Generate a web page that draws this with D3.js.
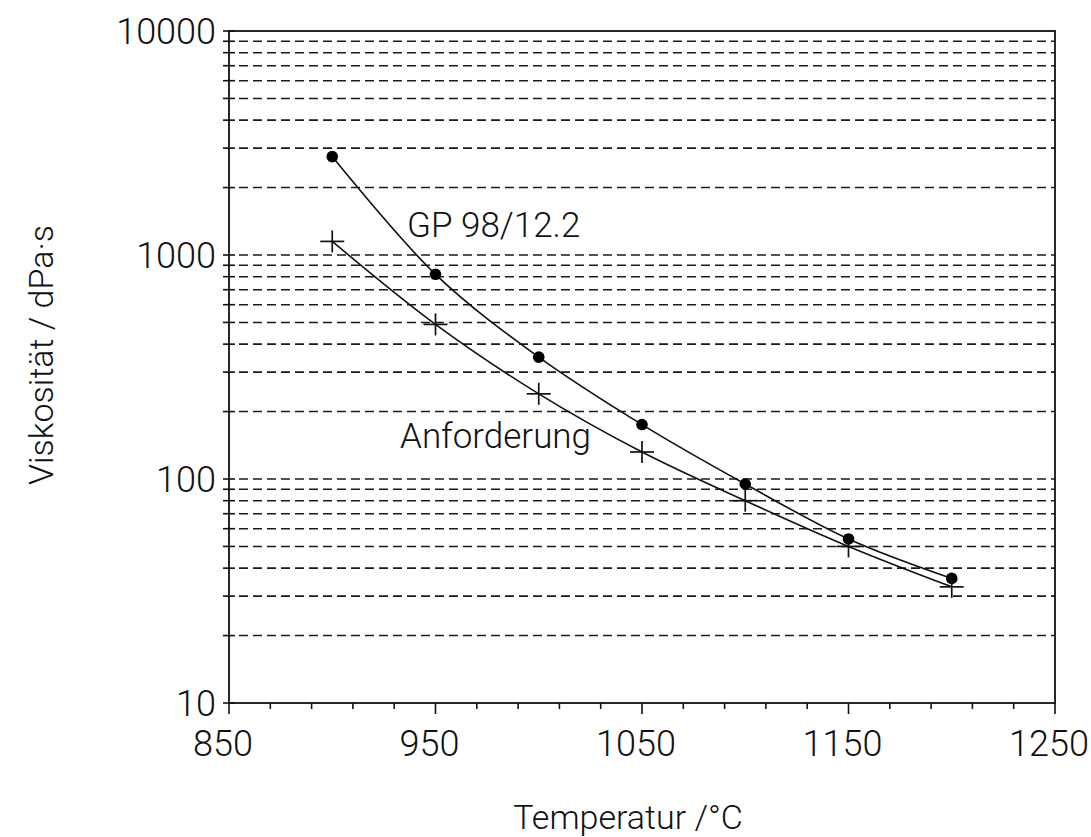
<!DOCTYPE html>
<html><head><meta charset="utf-8">
<script src="https://cdn.jsdelivr.net/npm/d3@7"></script>
<style>
html,body{margin:0;padding:0;background:#fff;}
svg text{font-family:Roboto,"Liberation Sans",Arial,sans-serif;font-weight:300;fill:#111;}
</style></head>
<body><svg id="c" width="1091" height="837"></svg>
<script>
// ---- data ----
const temperatures = [900, 950, 1000, 1050, 1100, 1150, 1200];
const gpValues = [2750, 820, 350, 175, 95, 54, 36];          // GP 98/12.2 (dots)
const requirementValues = [1150, 490, 240, 132, 80, 50, 33];  // Anforderung (crosses)
const xTickLabels = [850, 950, 1050, 1150, 1250];
const yTickLabels = [10, 100, 1000, 10000];
const seriesNames = ["GP 98/12.2", "Anforderung"];
const xTitle = "Temperatur /°C";
const yTitle = "Viskosität / dPa·s";

// ---- layout ----
const svg = d3.select("#c");
const L = 229, R = 1055, T = 31, B = 703;
const x = d3.scaleLinear().domain([850, 1250]).range([L, R]);
const y = d3.scaleLog().domain([10, 10000]).range([B, T]);

// gridlines at 1..9 x decade (dashed)
const gridVals = [];
[10, 100, 1000].forEach(d => { for (let k = 1; k <= 9; k++) { const v = d * k; if (v > 10) gridVals.push(v); } });
svg.append("g").selectAll("line").data(gridVals).join("line")
  .attr("x1", L + 10).attr("x2", R).attr("y1", d => y(d)).attr("y2", d => y(d))
  .attr("stroke", "#1a1a1a").attr("stroke-width", 1.6).attr("stroke-dasharray", "9,5");

// frame
svg.append("rect").attr("x", L).attr("y", T).attr("width", R - L).attr("height", B - T)
  .attr("fill", "none").attr("stroke", "#111").attr("stroke-width", 1.8);

// y ticks (crossing the axis)
const yTickVals = gridVals.concat([10, 10000]);
svg.append("g").selectAll("line").data(yTickVals).join("line")
  .attr("x1", L - 6).attr("x2", L + 6).attr("y1", d => y(d)).attr("y2", d => y(d))
  .attr("stroke", "#111").attr("stroke-width", 1.6);

// y tick labels
svg.append("g").selectAll("text").data(yTickLabels).join("text")
  .attr("x", L - 13).attr("y", d => y(d) + 13)
  .attr("text-anchor", "end").attr("font-size", 36).text(d => d);

// x ticks
const xMinor = d3.range(850, 1251, 20);
svg.append("g").selectAll("line").data(xMinor).join("line")
  .attr("x1", d => x(d)).attr("x2", d => x(d)).attr("y1", B)
  .attr("y2", d => B + (((d - 850) % 100 === 0) ? 11 : 6))
  .attr("stroke", "#111").attr("stroke-width", 1.6);

svg.append("g").selectAll("text").data(xTickLabels).join("text")
  .attr("x", d => x(d) - 6).attr("y", B + 53)
  .attr("text-anchor", "middle").attr("font-size", 36).text(d => d);

// axis titles
svg.append("text").attr("x", 628).attr("y", 829).attr("text-anchor", "middle")
  .attr("font-size", 34).text(xTitle);
svg.append("text").attr("transform", "translate(53,355) rotate(-90)").attr("text-anchor", "middle")
  .attr("font-size", 34).text(yTitle);

// curves
const line = d3.line().x(d => x(d[0])).y(d => y(d[1])).curve(d3.curveCatmullRom.alpha(0.5));
const gpPts = temperatures.map((t, i) => [t, gpValues[i]]);
const rqPts = temperatures.map((t, i) => [t, requirementValues[i]]);
[gpPts, rqPts].forEach(p => svg.append("path").attr("d", line(p))
  .attr("fill", "none").attr("stroke", "#111").attr("stroke-width", 1.6));

// markers
svg.append("g").selectAll("circle").data(gpPts).join("circle")
  .attr("cx", d => x(d[0])).attr("cy", d => y(d[1])).attr("r", 5.8).attr("fill", "#000");
const cr = svg.append("g").selectAll("g").data(rqPts).join("g")
  .attr("transform", d => `translate(${x(d[0])},${y(d[1])})`);
cr.append("line").attr("x1", -12).attr("x2", 12).attr("y1", 0).attr("y2", 0).attr("stroke", "#111").attr("stroke-width", 1.7);
cr.append("line").attr("x1", 0).attr("x2", 0).attr("y1", -11).attr("y2", 11).attr("stroke", "#111").attr("stroke-width", 1.7);

// series labels
svg.append("text").attr("x", 407).attr("y", 237).attr("font-size", 35).text(seriesNames[0]);
svg.append("text").attr("x", 400).attr("y", 448).attr("font-size", 35).text(seriesNames[1]);
</script></body></html>
